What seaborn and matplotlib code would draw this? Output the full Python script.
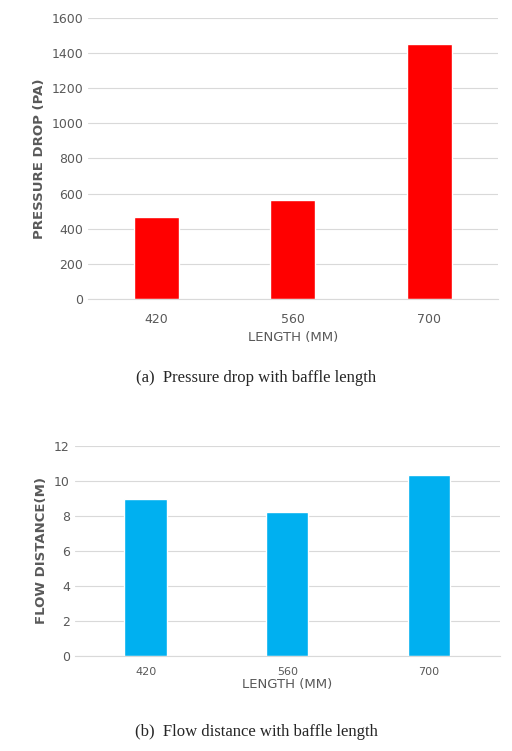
import matplotlib
matplotlib.use("Agg")
import matplotlib.pyplot as plt
import seaborn as sns
import pandas as pd

lengths = ["420", "560", "700"]
pressure_drop = [467, 564, 1452]
flow_distance = [8.97, 8.2, 10.33]

sns.set_style("white")
plt.rcParams['font.family'] = ['DejaVu Sans']

fig = plt.figure(figsize=(5.12, 7.51), dpi=100)


def style_axes(ax, ymax, step, xlabel, ylabel):
    ax.set_ylim(0, ymax)
    ax.set_yticks(range(0, ymax + 1, step))
    ax.yaxis.grid(True, color="#d9d9d9", linewidth=0.8)
    ax.set_axisbelow(True)
    for s in ["top", "right", "left"]:
        ax.spines[s].set_visible(False)
    ax.spines["bottom"].set_color("#d9d9d9")
    ax.tick_params(axis="both", colors="#595959", labelsize=9, length=0)
    ax.set_xlabel(xlabel, color="#595959", fontsize=9.5)
    ax.set_ylabel(ylabel, color="#595959", fontsize=9.5, fontweight="bold")


ax1 = fig.add_axes([0.172, 0.602, 0.80, 0.374])
df1 = pd.DataFrame({"length": lengths, "value": pressure_drop})
sns.barplot(data=df1, x="length", y="value", color="#ff0000", saturation=1, width=0.33, ax=ax1)
style_axes(ax1, 1600, 200, "LENGTH (MM)", "PRESSURE DROP (PA)")
ax1.tick_params(axis="x", pad=10)

ax2 = fig.add_axes([0.146, 0.1265, 0.83, 0.28])
df2 = pd.DataFrame({"length": lengths, "value": flow_distance})
sns.barplot(data=df2, x="length", y="value", color="#00b0f0", saturation=1, width=0.3, ax=ax2)
style_axes(ax2, 12, 2, "LENGTH (MM)", "FLOW DISTANCE(M)")
ax2.xaxis.labelpad = 1
ax2.tick_params(axis="x", labelsize=8, pad=8)

fig.text(0.5, 0.497, "(a)  Pressure drop with baffle length", ha="center", va="center",
         family="Liberation Serif", fontsize=12)
fig.text(0.5, 0.025, "(b)  Flow distance with baffle length", ha="center", va="center",
         family="Liberation Serif", fontsize=12)

fig.savefig("out.png", dpi=100)
